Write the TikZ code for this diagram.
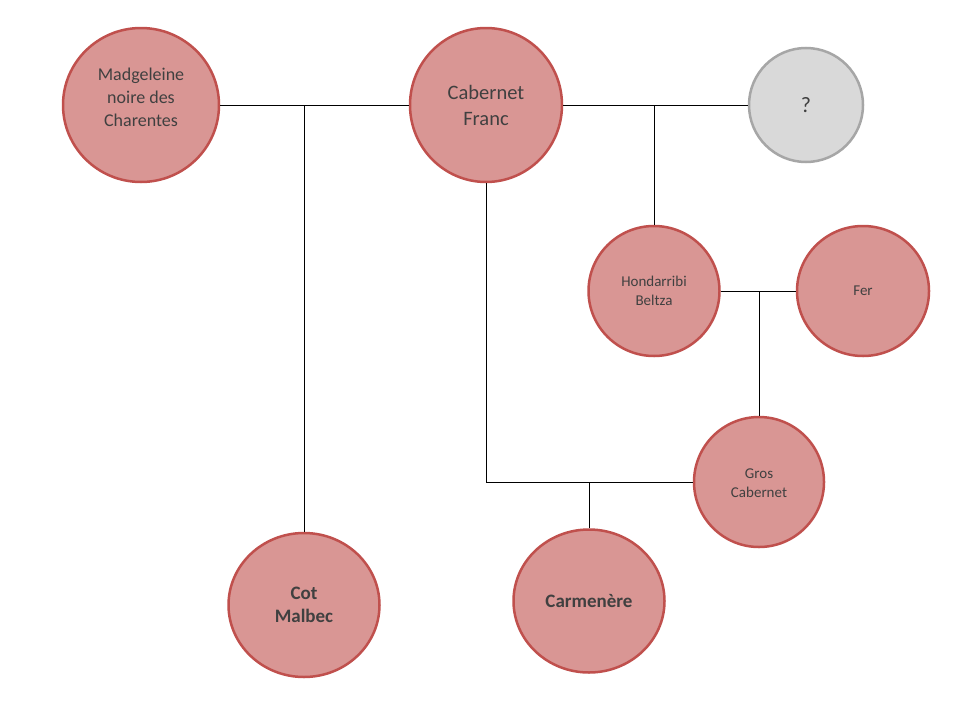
\documentclass[tikz,border=0pt]{standalone}
\usepackage{fontspec}
\setmainfont{Carlito}
\usetikzlibrary{shapes.geometric}
\definecolor{rosefill}{HTML}{D99694}
\definecolor{roseline}{HTML}{C0504D}
\definecolor{greyfill}{HTML}{D9D9D9}
\definecolor{greyline}{HTML}{A6A6A6}
\definecolor{txt}{HTML}{404040}
\tikzset{
  vine/.style={ellipse, draw=roseline, fill=rosefill, line width=2.5pt, inner sep=0pt, align=center, text=txt},
  unknown/.style={ellipse, draw=greyline, fill=greyfill, line width=2.5pt, inner sep=0pt, align=center, text=txt},
  link/.style={draw=black, line width=1pt},
}
\begin{document}
\begin{tikzpicture}[x=1pt,y=-1pt]
\useasboundingbox[fill=white] (0,0) rectangle (960,720);
\node[vine, minimum width=156pt, minimum height=154pt,
  label={[align=center, text=txt, font=\fontsize{18}{23}\selectfont, yshift=8pt]center:Madgeleine\\noire des\\Charentes}] (mad) at (141,105) {};
\node[vine, minimum width=152pt, minimum height=154pt, font=\fontsize{20.5}{26}\selectfont] (cab) at (486,105) {Cabernet\\Franc};
\node[unknown, minimum width=114pt, minimum height=114pt, font=\fontsize{22}{24}\selectfont] (unk) at (806,105) {?};
\node[vine, minimum width=131pt, minimum height=130pt, font=\fontsize{15}{19}\selectfont] (hon) at (654,291) {Hondarribi\\Beltza};
\node[vine, minimum width=132pt, minimum height=130pt, font=\fontsize{15}{19}\selectfont] (fer) at (863,291) {Fer};
\node[vine, minimum width=130pt, minimum height=130pt,
  label={[align=center, text=txt, font=\fontsize{15}{19}\selectfont, yshift=-1.5pt]center:Gros\\Cabernet}] (gros) at (759,482) {};
\node[vine, minimum width=151pt, minimum height=144pt, font=\bfseries\fontsize{19}{23}\selectfont] (cot) at (304,605) {Cot\\Malbec};
\node[vine, minimum width=151pt, minimum height=143pt, font=\bfseries\fontsize{19}{23}\selectfont] (carm) at (589,601) {Carmenère};
% parents of Cot Malbec
\draw[link] (mad.east) -- (cab.west);
\draw[link] (cot.north) -- (cot.north |- mad.east);
% parents of Hondarribi Beltza
\draw[link] (cab.east) -- (unk.west);
\draw[link] (hon.north) -- (hon.north |- cab.east);
% parents of Gros Cabernet
\draw[link] (hon.east) -- (fer.west);
\draw[link] (gros.north) -- (gros.north |- hon.east);
% parents of Carmenère
\draw[link] (cab.south) -- (cab.south |- gros.west) -- (gros.west);
\draw[link] (carm.north) -- (carm.north |- gros.west);
\end{tikzpicture}
\end{document}
